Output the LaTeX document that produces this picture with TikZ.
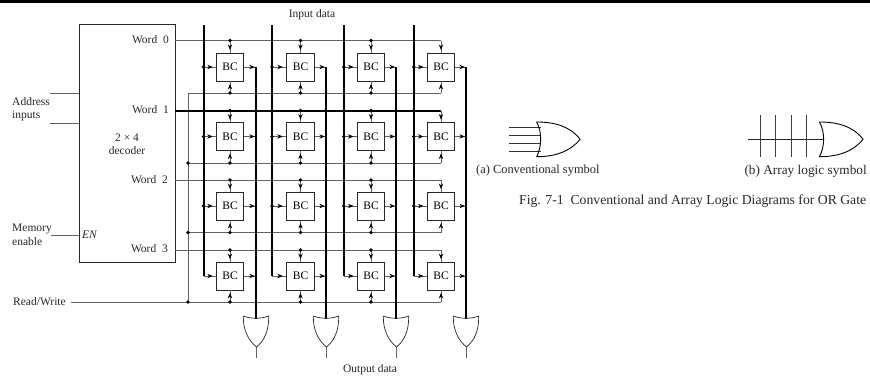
\documentclass[tikz,border=0pt]{standalone}
\usepackage{fontspec}
\setmainfont{Liberation Serif}
\usetikzlibrary{arrows.meta,decorations.markings}
\tikzset{
  thin line/.style={line width=0.75pt,draw=black!62},
  thick bus/.style={line width=2pt,draw=black},
  cellbox/.style={draw=black!85,line width=0.8pt,fill=white,minimum width=27.5pt,minimum height=28pt,inner sep=0pt,font=\fontsize{11.5}{13}\selectfont},
  lab/.style={inner sep=0pt,font=\fontsize{11.5}{13}\selectfont,text=black!85},
  junction/.style={circle,fill=black,inner sep=0pt,minimum size=3.6pt},
  tipat/.style={postaction={decorate,decoration={markings,mark=at position #1 with {\arrow{Stealth[length=5.5pt,width=4.4pt,black]}}}}},
  gateline/.style={line width=0.7pt,draw=black!85,line join=miter},
  symbolgate/.style={line width=0.9pt,draw=black,line join=miter}
}
\begin{document}
\begin{tikzpicture}[x=1pt,y=-1pt]
\useasboundingbox (0,0) rectangle (870,378);
\fill[black] (0,0) rectangle (870,3);
% decoder
\node[draw=black!85,line width=0.8pt,minimum width=96pt,minimum height=238pt,inner sep=0pt] (dec) at (127,143) {};
\node[lab,anchor=east] (w0) at (169,40) {Word\ \ 0};
\node[lab,anchor=east] (w1) at (169,110) {Word\ \ 1};
\node[lab,anchor=east] (w2) at (168,180) {Word\ \ 2};
\node[lab,anchor=east] (w3) at (168,249) {Word\ \ 3};
\node[lab] (size) at (127,138) {2 × 4};
\node[lab] (decname) at (127,151) {decoder};
\node[lab,anchor=west] (en) at (82,235) {\textit{EN}};
\node[lab,anchor=west] (addr1) at (12,102) {Address};
\node[lab,anchor=west] (addr2) at (12,116) {inputs};
\node[lab,anchor=west] (mem1) at (12,229) {Memory};
\node[lab,anchor=west] (mem2) at (12,242) {enable};
\node[lab,anchor=west] (rw) at (13,302) {Read/Write};
\node[lab] (indata) at (312,15) {Input data};
\node[lab] (outdata) at (370,370) {Output data};
\coordinate (a1) at (50,93);
\coordinate (a1e) at (79,93);
\coordinate (a2) at (50,123);
\coordinate (a2e) at (79,123);
\coordinate (me) at (51,235);
\coordinate (mee) at (79,235);
\coordinate (rws) at (71,302);
\coordinate (bus) at (188,302);
\coordinate (bustop) at (188,93);
\draw[thin line] (a1)--(a1e) (a2)--(a2e) (me)--(mee);
\draw[thin line] (rws)--(bus)--(bustop);
% cells and connections
\foreach \r/\wy/\cy/\sy in {0/40.5/67/93,1/110.5/136.5/163,2/180/206/232.5,3/250/276/302}{
  \coordinate (wl\r) at (175,\wy);
  \coordinate (wr\r) at (441,\wy);
  \coordinate (sl\r) at (188,\sy);
  \coordinate (sr\r) at (441,\sy);
  \ifnum\r=1
    \draw[thick bus] (wl\r)--(wr\r);
  \else
    \draw[thin line] (wl\r)--(wr\r);
  \fi
  \draw[thin line] (sl\r)--(sr\r);
  \ifnum\r>0 \node[junction] (sd\r) at (sl\r) {}; \fi
  \foreach \c/\cx/\xi/\xo in {0/230/203.5/256,1/300.5/272/326,2/371/343.7/396,3/441/413.7/466}{
    \node[cellbox] (bc\r\c) at (\cx,\cy) {BC};
    \coordinate (wj\r\c) at (\cx,\wy);
    \coordinate (sj\r\c) at (\cx,\sy);
    \coordinate (ij\r\c) at (\xi,\cy);
    \coordinate (oj\r\c) at (\xo,\cy);
    \draw[thin line,tipat=0.78] (wj\r\c)--(bc\r\c.north);
    \draw[thin line,tipat=0.78] (sj\r\c)--(bc\r\c.south);
    \draw[thin line,tipat=0.75] (ij\r\c)--(bc\r\c.west);
    \draw[thin line,tipat=0.9] (bc\r\c.east)--(oj\r\c);
    \ifnum\c<3
      \node[junction] (wd\r\c) at (wj\r\c) {};
      \node[junction] (sd\r\c) at (sj\r\c) {};
    \fi
    \ifnum\r<3
      \node[junction] (id\r\c) at (ij\r\c) {};
    \fi
  }
}
% buses and gates
\foreach \c/\xi/\xo in {0/203.5/256,1/272/326,2/343.7/396,3/413.7/466}{
  \coordinate (it\c) at (\xi,25);
  \draw[thick bus,line cap=butt] (it\c)--(ij3\c);
  \coordinate (g\c) at (\xo,319);
  \draw[thick bus,line cap=butt] (oj0\c)--(g\c);
  \coordinate (gl\c) at (\xo-12.7,316);
  \coordinate (gr\c) at (\xo+12.7,316);
  \coordinate (gt\c) at (\xo+0.5,347);
  \coordinate (go\c) at (\xo+0.5,358);
  \draw[gateline] (gl\c) .. controls (\xo-5,319) and (\xo+5,319) .. (gr\c)
     .. controls (\xo+13,331) and (\xo+8,341) .. (gt\c)
     .. controls (\xo-7,341) and (\xo-13,331) .. (gl\c);
  \draw[thin line] (gt\c)--(go\c);
}
% conventional symbol
\foreach \i/\y in {0/127,1/135,2/143,3/151}{
  \coordinate (ca\i) at (509,\y);
  \coordinate (cb\i) at (540.5,\y);
  \draw[line width=0.75pt,draw=black!80] (ca\i)--(cb\i);
}
\draw[symbolgate] (536.7,122) .. controls (554,122) and (570,126) .. (580,139.3)
  .. controls (570,152) and (554,156.7) .. (536.7,156.7)
  .. controls (542,146) and (542,132) .. (536.7,122) -- cycle;
\node[lab,anchor=west,font=\fontsize{12.4}{14}\selectfont] (capa) at (476,171) {(a) Conventional symbol};
% array symbol
\coordinate (ah0) at (748,139.3);
\coordinate (ah1) at (823,139.3);
\draw[line width=0.75pt,draw=black!85] (ah0)--(ah1);
\foreach \i/\x in {0/760,1/775.5,2/791,3/806.5}{
  \coordinate (av\i) at (\x,115);
  \coordinate (aw\i) at (\x,157);
  \draw[line width=0.75pt,draw=black!75] (av\i)--(aw\i);
}
\draw[symbolgate] (819.5,122) .. controls (837,122) and (853,126) .. (863,139.3)
  .. controls (853,152) and (837,156.7) .. (819.5,156.7)
  .. controls (825,146) and (825,132) .. (819.5,122) -- cycle;
\node[lab,anchor=east,font=\fontsize{13.3}{15}\selectfont] (capb) at (867,171) {(b) Array logic symbol};
\node[lab,anchor=west,font=\fontsize{13.7}{16}\selectfont] (cap) at (519,201) {Fig. 7-1\ \ Conventional and Array Logic Diagrams for OR Gate};
\end{tikzpicture}
\end{document}
